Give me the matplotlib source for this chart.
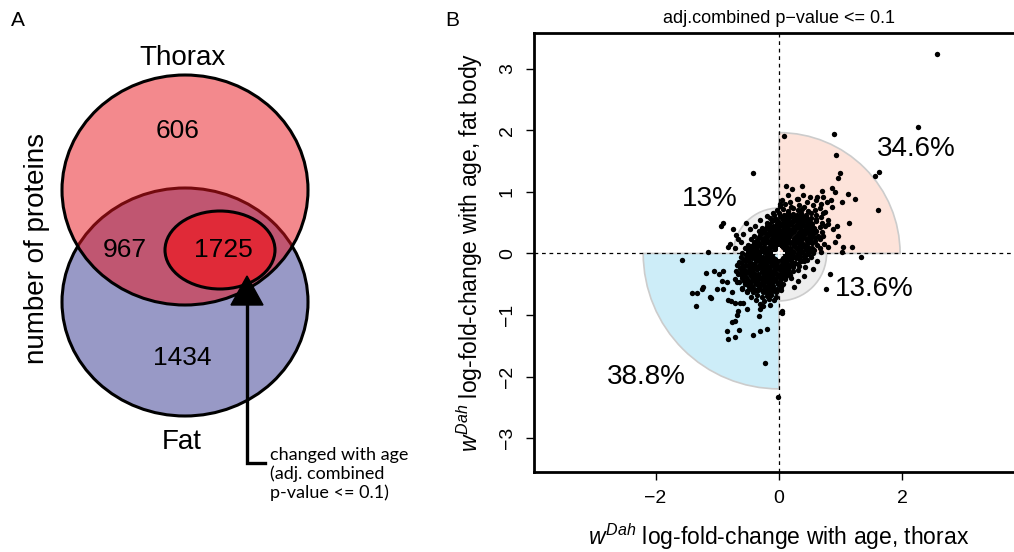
import matplotlib
matplotlib.use("Agg")
import matplotlib.pyplot as plt
from matplotlib.patches import Ellipse, Wedge, Polygon
import numpy as np

plt.rcParams['font.family'] = ['Liberation Sans', 'DejaVu Sans']
plt.rcParams['mathtext.fontset'] = 'custom'
plt.rcParams['mathtext.it'] = 'Liberation Sans:italic'
plt.rcParams['mathtext.rm'] = 'Liberation Sans'

# ---------------- Panel A: Venn counts ----------------
venn_sets = ["Thorax", "Fat"]
only_thorax = 606
shared_unchanged = 967
shared_changed = 1725
only_fat = 1434
panel_a_ylabel = "number of proteins"
changed_note = "changed with age\n(adj. combined\np-value <= 0.1)"

# ---------------- Panel B: quadrant shares (%) ----------------
quadrant_labels = ["34.6%", "13%", "13.6%", "38.8%"]
quadrant_pct = [34.6, 13.0, 13.6, 38.8]          # Q1 (up/up), Q2, Q4, Q3 (down/down)
quadrant_angles = [(0, 90), (90, 180), (270, 360), (180, 270)]

# log-fold-change with age: sparse points away from the centre
thorax_tail = [2.56, 2.25, 0.08, 0.89, 0.92, 0.99, 0.96, 1.55, 1.62, 1.60, 1.23, 1.13,
               1.18, 1.33, 1.12, 1.02, 0.86, 0.90, 0.70, 0.50, 0.37, 0.21, 0.11, 0.84,
               0.78, 0.86, 0.71, 0.61, 0.39, 0.29, 0.94, 0.80, 0.88, 0.96, 0.91, 1.04,
               1.02, 0.80, 0.15,
               -0.42, -0.91, -0.94, -0.53, -0.75, -1.15, -0.80, -0.83, -0.66, -0.58,
               -0.47, -0.39, -0.31, -0.19, -0.10, 0.02, -0.70, -0.62, -0.72,
               -1.57, -1.18, -1.41, -1.33, -1.34, -1.25, -1.23, -1.12, -1.10, -1.05,
               -1.00, -0.97, -0.91, -0.92, -0.84, -0.83, -0.78, -0.71, -0.63, -0.58,
               -0.66, -0.52, -0.68, -0.76, -0.71, -0.84, -0.83, -0.71, -0.65, -0.42,
               -0.31, -0.19, -0.32, -0.31, -0.26, -0.23, 0.05, -0.01, -0.68, -0.60,
               -0.52, -0.76, -0.91,
               0.83, 0.76, 0.24, 0.40, 0.05, 0.55, 0.62, 0.30]
fatbody_tail = [3.24, 2.06, 1.91, 1.94, 1.60, 1.30, 1.22, 1.26, 1.33, 0.71, 0.88, 0.49,
                0.10, -0.05, 0.97, 0.84, 1.07, 1.00, 1.02, 0.91, 1.09, 1.05, 1.09, 0.87,
                0.84, 0.75, 0.91, 0.92, 0.95, 0.88, 0.44, 0.47, 0.39, 0.28, 0.18, 0.11,
                0.02, 0.10, 0.95,
                1.31, 0.49, 0.44, 0.49, 0.39, 0.03, 0.15, 0.10, 0.23, 0.31,
                0.39, 0.44, 0.55, 0.60, 0.66, 0.80, 0.30, 0.18, 0.08,
                -0.11, -0.31, -0.65, -0.65, -0.86, -0.58, -0.55, -0.70, -0.73, -0.29,
                -0.57, -0.34, -0.29, -0.45, -0.47, -0.75, -0.78, -0.80, -0.80, -0.80,
                -0.94, -0.91, -1.00, -1.12, -1.10, -1.26, -1.39, -1.36, -1.25, -1.33,
                -1.26, -1.23, -1.02, -0.91, -0.86, -1.78, -0.94, -2.33, -0.47, -0.58,
                -0.63, -0.63, -0.58,
                -0.34, -0.58, -0.55, -0.37, -0.96, -0.25, -0.12, -0.45]

# dense central cloud, listed row by row
thorax_core = [
    0.05, 0.18, 0.30, 0.45, 0.60,
    0.02, 0.10, 0.20, 0.33, 0.40, 0.55, 0.68,
    -0.03, 0.06, 0.14, 0.22, 0.30, 0.38, 0.47, 0.58, 0.66, 0.75,
    -0.08, 0.00, 0.08, 0.15, 0.22, 0.29, 0.36, 0.43, 0.52, 0.60, 0.72,
    -0.15, -0.05, 0.03, 0.10, 0.17, 0.24, 0.31, 0.38, 0.45, 0.52, 0.60, 0.68, 0.80,
    -0.20, -0.12, -0.04, 0.03, 0.10, 0.17, 0.24, 0.31, 0.38, 0.45, 0.52, 0.60, 0.70,
    -0.28, -0.20, -0.13, -0.06, 0.01, 0.08, 0.15, 0.22, 0.29, 0.36, 0.43, 0.50, 0.57, 0.66, 0.75,
    -0.33, -0.25, -0.17, -0.10, -0.03, 0.04, 0.11, 0.18, 0.25, 0.32, 0.39, 0.46, 0.53, 0.60, 0.70,
    -0.40, -0.30, -0.22, -0.15, -0.08, -0.01, 0.06, 0.13, 0.20, 0.27, 0.34, 0.41, 0.48, 0.55, 0.63, 0.72,
    -0.45, -0.36, -0.28, -0.20, -0.13, -0.06, 0.01, 0.08, 0.15, 0.22, 0.29, 0.36, 0.43, 0.50, 0.58, 0.66,
    -0.50, -0.40, -0.32, -0.24, -0.17, -0.10, -0.03, 0.04, 0.11, 0.18, 0.25, 0.32, 0.39, 0.46, 0.54, 0.62, 0.73,
    -0.55, -0.45, -0.36, -0.28, -0.21, -0.14, -0.07, 0.06, 0.13, 0.20, 0.27, 0.34, 0.41, 0.48, 0.56, 0.66,
    -0.60, -0.50, -0.41, -0.32, -0.24, -0.16, -0.09, 0.09, 0.16, 0.23, 0.30, 0.37, 0.45, 0.55, 0.68,
    -0.62, -0.52, -0.44, -0.36, -0.28, -0.20, -0.13, -0.06, 0.06, 0.13, 0.20, 0.27, 0.34, 0.42, 0.52,
    -0.65, -0.55, -0.46, -0.38, -0.30, -0.23, -0.16, -0.09, -0.02, 0.05, 0.12, 0.19, 0.26, 0.35, 0.45,
    -0.68, -0.58, -0.49, -0.41, -0.33, -0.26, -0.19, -0.12, -0.05, 0.02, 0.09, 0.16, 0.23, 0.32, 0.42,
    -0.70, -0.60, -0.51, -0.43, -0.35, -0.28, -0.21, -0.14, -0.07, 0.00, 0.07, 0.14, 0.22, 0.30,
    -0.66, -0.57, -0.48, -0.40, -0.32, -0.25, -0.18, -0.11, -0.04, 0.03, 0.10, 0.18,
    -0.72, -0.60, -0.50, -0.42, -0.34, -0.27, -0.20, -0.13, -0.06, 0.01, 0.09, 0.20,
    -0.65, -0.55, -0.45, -0.37, -0.30, -0.23, -0.16, -0.09, -0.02, 0.06,
    -0.60, -0.48, -0.40, -0.32, -0.25, -0.18, -0.11, -0.04, 0.04,
    -0.52, -0.42, -0.34, -0.26, -0.19, -0.12, -0.05, 0.03,
    -0.45, -0.35, -0.27, -0.20, -0.13, -0.05,
    -0.38, -0.25, -0.16, -0.08,
    -0.30, -0.15,
    # in-between rows of the densest part
    0.02, 0.09, 0.16, 0.23, 0.30, 0.37, 0.44,
    -0.09, -0.02, 0.06, 0.13, 0.20, 0.27, 0.34, 0.41, 0.48,
    -0.17, -0.10, -0.03, 0.05, 0.12, 0.19, 0.26, 0.33, 0.40, 0.47, 0.54,
    -0.22, -0.15, -0.08, -0.01, 0.07, 0.14, 0.21, 0.28, 0.35, 0.42, 0.49, 0.56,
    -0.27, -0.20, -0.13, -0.06, 0.02, 0.09, 0.16, 0.23, 0.30, 0.37, 0.44, 0.51, 0.58,
    -0.33, -0.26, -0.19, -0.12, -0.05, 0.03, 0.10, 0.17, 0.24, 0.31, 0.38, 0.45, 0.52, 0.59,
    -0.40, -0.33, -0.26, -0.19, -0.12, -0.05, 0.03, 0.10, 0.17, 0.24, 0.31, 0.38, 0.45, 0.52,
    -0.46, -0.39, -0.32, -0.25, -0.18, -0.11, -0.04, 0.04, 0.11, 0.18, 0.25, 0.32, 0.39, 0.46, 0.53,
    -0.51, -0.44, -0.37, -0.30, -0.23, -0.16, -0.09, 0.09, 0.16, 0.23, 0.30, 0.37, 0.44, 0.51,
    -0.54, -0.47, -0.40, -0.33, -0.26, -0.19, -0.12, 0.12, 0.19, 0.26, 0.33, 0.40, 0.47,
    -0.58, -0.51, -0.44, -0.37, -0.30, -0.23, -0.16, -0.09, -0.02, 0.06, 0.13, 0.20, 0.27, 0.34, 0.41,
    -0.61, -0.54, -0.47, -0.40, -0.33, -0.26, -0.19, -0.12, -0.05, 0.03, 0.10, 0.17, 0.24, 0.31,
    -0.63, -0.56, -0.49, -0.42, -0.35, -0.28, -0.21, -0.14, -0.07, 0.01, 0.08, 0.15, 0.22,
    -0.62, -0.55, -0.48, -0.41, -0.34, -0.27, -0.20, -0.13, -0.06, 0.02, 0.09, 0.16,
    -0.60, -0.53, -0.46, -0.39, -0.32, -0.25, -0.18, -0.11, -0.04, 0.04, 0.11,
    -0.56, -0.49, -0.42, -0.35, -0.28, -0.21, -0.14, -0.07, 0.01,
    -0.51, -0.44, -0.37, -0.30, -0.23, -0.16, -0.09, -0.02,
    -0.45, -0.38, -0.31, -0.24, -0.17, -0.10, -0.03,
]
fatbody_core = [
    0.86, 0.83, 0.88, 0.84, 0.87,
    0.77, 0.80, 0.76, 0.79, 0.75, 0.78, 0.80,
    0.70, 0.72, 0.69, 0.73, 0.70, 0.72, 0.69, 0.71, 0.73, 0.68,
    0.63, 0.65, 0.62, 0.66, 0.64, 0.62, 0.65, 0.63, 0.66, 0.62, 0.65,
    0.58, 0.56, 0.59, 0.55, 0.58, 0.56, 0.59, 0.57, 0.55, 0.58, 0.56, 0.59, 0.55,
    0.49, 0.52, 0.50, 0.48, 0.51, 0.49, 0.52, 0.50, 0.48, 0.51, 0.49, 0.52, 0.50,
    0.42, 0.44, 0.41, 0.43, 0.45, 0.42, 0.44, 0.41, 0.43, 0.45, 0.42, 0.44, 0.41, 0.43, 0.45,
    0.37, 0.35, 0.38, 0.36, 0.34, 0.37, 0.35, 0.38, 0.36, 0.34, 0.37, 0.35, 0.38, 0.36, 0.34,
    0.28, 0.30, 0.27, 0.31, 0.29, 0.28, 0.30, 0.27, 0.31, 0.29, 0.28, 0.30, 0.27, 0.31, 0.29, 0.28,
    0.23, 0.21, 0.24, 0.22, 0.20, 0.23, 0.21, 0.24, 0.22, 0.20, 0.23, 0.21, 0.24, 0.22, 0.20, 0.23,
    0.14, 0.16, 0.13, 0.15, 0.17, 0.14, 0.16, 0.13, 0.15, 0.17, 0.14, 0.16, 0.13, 0.15, 0.17, 0.14, 0.16,
    0.09, 0.07, 0.10, 0.08, 0.06, 0.09, 0.07, 0.10, 0.08, 0.06, 0.09, 0.07, 0.10, 0.08, 0.06, 0.09,
    0.00, 0.02, -0.01, 0.01, 0.03, 0.00, 0.02, -0.01, 0.01, 0.03, 0.00, 0.02, -0.01, 0.01, 0.03,
    -0.05, -0.07, -0.04, -0.06, -0.08, -0.05, -0.07, -0.09, -0.08, -0.05, -0.07, -0.04, -0.06, -0.08, -0.05,
    -0.14, -0.12, -0.15, -0.13, -0.11, -0.14, -0.12, -0.15, -0.13, -0.11, -0.14, -0.12, -0.15, -0.13, -0.11,
    -0.19, -0.21, -0.18, -0.20, -0.22, -0.19, -0.21, -0.18, -0.20, -0.22, -0.19, -0.21, -0.18, -0.20, -0.22,
    -0.28, -0.26, -0.29, -0.27, -0.25, -0.28, -0.26, -0.29, -0.27, -0.25, -0.28, -0.26, -0.29, -0.27,
    -0.33, -0.35, -0.32, -0.34, -0.36, -0.33, -0.35, -0.32, -0.34, -0.36, -0.33, -0.35,
    -0.42, -0.40, -0.43, -0.41, -0.39, -0.42, -0.40, -0.43, -0.41, -0.39, -0.42, -0.40,
    -0.47, -0.49, -0.46, -0.48, -0.50, -0.47, -0.49, -0.46, -0.48, -0.50,
    -0.56, -0.54, -0.57, -0.55, -0.53, -0.56, -0.54, -0.57, -0.55,
    -0.61, -0.63, -0.60, -0.62, -0.64, -0.61, -0.63, -0.60,
    -0.70, -0.68, -0.71, -0.69, -0.67, -0.70,
    -0.75, -0.77, -0.74, -0.76,
    -0.82, -0.84,
    # in-between rows of the densest part
    0.61, 0.59, 0.62, 0.60, 0.58, 0.61, 0.59,
    0.54, 0.52, 0.55, 0.53, 0.51, 0.54, 0.52, 0.55, 0.53,
    0.47, 0.45, 0.48, 0.46, 0.44, 0.47, 0.45, 0.48, 0.46, 0.44, 0.47,
    0.40, 0.38, 0.41, 0.39, 0.37, 0.40, 0.38, 0.41, 0.39, 0.37, 0.40, 0.38,
    0.33, 0.31, 0.34, 0.32, 0.30, 0.33, 0.31, 0.34, 0.32, 0.30, 0.33, 0.31, 0.34,
    0.26, 0.24, 0.27, 0.25, 0.23, 0.26, 0.24, 0.27, 0.25, 0.23, 0.26, 0.24, 0.27, 0.25,
    0.19, 0.17, 0.20, 0.18, 0.16, 0.19, 0.17, 0.20, 0.18, 0.16, 0.19, 0.17, 0.20, 0.18,
    0.12, 0.10, 0.13, 0.11, 0.09, 0.12, 0.10, 0.13, 0.11, 0.09, 0.12, 0.10, 0.13, 0.11, 0.09,
    0.05, 0.03, 0.06, 0.04, 0.02, 0.05, 0.03, 0.06, 0.04, 0.02, 0.05, 0.03, 0.06, 0.04,
    -0.02, -0.04, -0.01, -0.03, -0.05, -0.02, -0.04, -0.01, -0.03, -0.05, -0.02, -0.04, -0.01,
    -0.09, -0.11, -0.08, -0.10, -0.12, -0.09, -0.11, -0.08, -0.10, -0.12, -0.09, -0.11, -0.08, -0.10, -0.12,
    -0.16, -0.18, -0.15, -0.17, -0.19, -0.16, -0.18, -0.15, -0.17, -0.19, -0.16, -0.18, -0.15, -0.17,
    -0.23, -0.25, -0.22, -0.24, -0.26, -0.23, -0.25, -0.22, -0.24, -0.26, -0.23, -0.25, -0.22,
    -0.30, -0.32, -0.29, -0.31, -0.33, -0.30, -0.32, -0.29, -0.31, -0.33, -0.30, -0.32,
    -0.37, -0.39, -0.36, -0.38, -0.40, -0.37, -0.39, -0.36, -0.38, -0.40, -0.37,
    -0.44, -0.46, -0.43, -0.45, -0.47, -0.44, -0.46, -0.43, -0.45,
    -0.51, -0.53, -0.50, -0.52, -0.54, -0.51, -0.53, -0.50,
    -0.58, -0.60, -0.57, -0.59, -0.61, -0.58, -0.60,
]

x_ticks = [-2, 0, 2]
y_ticks = [-3, -2, -1, 0, 1, 2, 3]

W, H = 1014, 552
fig = plt.figure(figsize=(W / 100, H / 100), dpi=100)

# ---------------- Panel A ----------------
axA = fig.add_axes([0, 0, 440 / W, 1])
axA.set_xlim(0, 440)
axA.set_ylim(H, 0)
axA.set_axis_off()

fat = Ellipse((185, 302), 246, 228, facecolor='#9899C6', edgecolor='black', lw=2.2, zorder=1)
thorax = Ellipse((185, 190), 246, 230, facecolor='#E9151D', alpha=0.5, edgecolor='none', zorder=2)
thorax_edge = Ellipse((185, 190), 246, 230, facecolor='none', edgecolor='black', lw=2.2, zorder=3)
inner = Ellipse((220, 250), 110, 78, facecolor='#E02A38', edgecolor='black', lw=2.2, zorder=4)
for p in (fat, thorax, thorax_edge, inner):
    axA.add_patch(p)

axA.text(182, 58, venn_sets[0], fontsize=20, ha='center', va='center')
axA.text(182, 442, venn_sets[1], fontsize=20, ha='center', va='center')
axA.text(178, 131, str(only_thorax), fontsize=19, ha='center', va='center', zorder=5)
axA.text(125, 250, str(shared_unchanged), fontsize=19, ha='center', va='center', zorder=5)
axA.text(223, 250, str(shared_changed), fontsize=19, ha='center', va='center', zorder=5)
axA.text(182, 358, str(only_fat), fontsize=19, ha='center', va='center', zorder=5)
axA.text(37, 248, panel_a_ylabel, fontsize=20, rotation=90, ha='center', va='center')

# pointer from the note to the changed subset
axA.plot([265, 247, 247], [463, 463, 300], color='black', lw=2.4,
         solid_joinstyle='miter', zorder=6)
axA.add_patch(Polygon([[247, 276], [231, 305], [263, 305]], closed=True,
                      facecolor='black', edgecolor='black', zorder=6))
axA.text(270, 474, changed_note, fontsize=13, family=['Lato', 'DejaVu Sans'],
         ha='left', va='center', linespacing=1.2)

fig.text(18 / W, 1 - 20 / H, "A", fontsize=15, ha='center', va='center')
fig.text(452 / W, 1 - 20 / H, "B", fontsize=15, ha='center', va='center')

# ---------------- Panel B ----------------
axB = fig.add_axes([534 / W, 80 / H, 490 / W, 439 / H])
axB.set_xlim(-3.97, 3.97)
axB.set_ylim(-3.55, 3.58)

r_max = 2.2
fills = ['#FDE3DA', '#EEEEEE', '#EEEEEE', '#CDEDF8']
for pct, (a0, a1), fc in zip(quadrant_pct, quadrant_angles, fills):
    r = pct / max(quadrant_pct) * r_max
    axB.add_patch(Wedge((0, 0), r, a0, a1, facecolor=fc, edgecolor='#CCCCCC',
                        lw=1.2, zorder=1))

axB.axhline(0, color='black', lw=0.9, ls=(0, (3, 3)), zorder=2)
axB.axvline(0, color='black', lw=0.9, ls=(0, (3, 3)), zorder=2)

xs = np.array(thorax_tail + thorax_core)
ys = np.array(fatbody_tail + fatbody_core)
axB.scatter(xs, ys, s=15, color='black', linewidths=0, zorder=3)
axB.plot([0], [0], marker='+', color='white', ms=9, mew=1.3, zorder=4)

label_pos = [(2.23, 1.69), (-1.13, 0.88), (1.54, -0.58), (-2.15, -2.00)]
for txt, (lx, ly) in zip(quadrant_labels, label_pos):
    axB.text(lx, ly, txt, fontsize=20, ha='center', va='center', zorder=5)

axB.set_xticks(x_ticks)
axB.set_xticklabels([f"{t:d}".replace('-', '\u2212') for t in x_ticks])
axB.set_yticks(y_ticks)
axB.set_yticklabels([f"{t:d}".replace('-', '\u2212') for t in y_ticks],
                    rotation=90, va='center')
axB.tick_params(direction='out', length=6, width=1, labelsize=14, pad=7)
for s in axB.spines.values():
    s.set_linewidth(2)

axB.set_xlabel(r"$w^{Dah}$ log-fold-change with age, thorax", fontsize=16.5)
axB.xaxis.set_label_coords(0.5, -0.148)
axB.xaxis.label.set_va('center')
axB.set_ylabel(r"$w^{Dah}$ log-fold-change with age, fat body", fontsize=16.5)
axB.yaxis.set_label_coords(-0.131, 0.5)
axB.yaxis.label.set_va('center')
axB.text(0.5, 1.034, "adj.combined p\u2212value <= 0.1", fontsize=13,
         ha='center', va='center', transform=axB.transAxes)

fig.savefig("out.png", dpi=100)
